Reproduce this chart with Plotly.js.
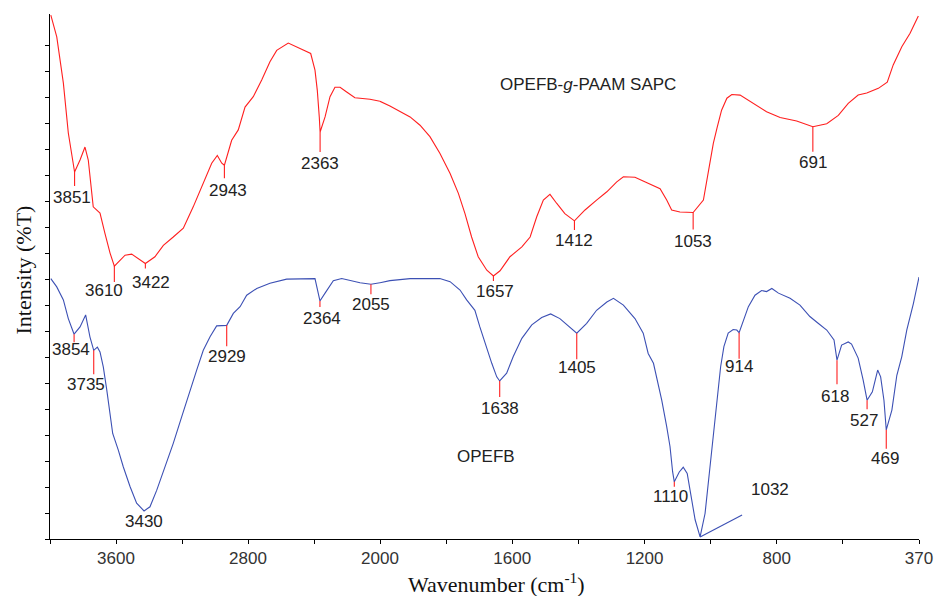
<!DOCTYPE html>
<html><head><meta charset="utf-8">
<script src="https://cdn.plot.ly/plotly-3.0.1.min.js"></script>
<style>html,body{margin:0;padding:0;background:#fff}</style>
</head><body><div id="chart" style="width:937px;height:596px"></div>
<script>
// ---------- data ----------
const redWn = [3995,3959,3919,3889,3851,3818,3788,3768,3738,3697,3667,3636,3610,3586,3545,3505,3465,3422,3364,3313,3253,3192,3132,3071,3020,2986,2959,2943,2899,2859,2818,2768,2717,2667,2626,2556,2485,2420,2394,2380,2368,2363,2333,2303,2273,2242,2202,2152,2121,2061,2000,1970,1909,1879,1849,1819,1788,1763,1743,1723,1703,1677,1657,1637,1607,1571,1546,1526,1506,1486,1466,1441,1412,1380,1345,1314,1284,1264,1229,1193,1153,1133,1118,1093,1070,1053,1022,1007,992,980,967,951,936,911,871,831,790,740,691,649,614,584,554,528,493,466,448,422,397,372];
const redT = [100.8,96.6,87.7,78.1,70.6,72.9,75.4,72.9,63.9,62.7,58.8,55.0,52.5,53.3,54.6,54.8,54.0,53.0,54.3,56.5,58.1,59.8,63.9,68.4,72.3,73.8,72.3,71.9,76.7,78.7,83.1,85.1,88.3,91.8,94.0,95.4,94.4,93.4,90.2,86.3,81.2,78.3,81.2,85.1,86.9,86.9,86.0,84.9,84.8,84.6,84.2,83.3,81.2,79.6,77.4,74.2,70.3,66.5,62.6,58.1,54.3,51.7,50.6,51.6,54.3,56.2,58.1,62.0,65.2,66.3,64.6,62.6,61.2,63.3,65.2,66.8,68.7,69.7,69.6,68.5,67.4,65.2,63.3,62.9,62.9,62.8,65.2,70.3,76.1,79.3,82.5,84.8,85.5,85.4,83.8,82.2,81.1,80.4,79.3,79.9,81.5,83.8,85.4,85.8,86.7,87.9,91.2,94.7,97.3,100.6];

const blueWn = [3995,3959,3919,3889,3854,3818,3784,3758,3735,3713,3697,3677,3656,3636,3620,3586,3556,3515,3475,3430,3394,3353,3303,3253,3202,3152,3111,3071,3030,2990,2929,2889,2848,2808,2747,2667,2566,2394,2380,2364,2333,2283,2232,2121,2055,2000,1970,1909,1819,1788,1758,1738,1713,1698,1682,1662,1647,1638,1617,1597,1571,1541,1511,1484,1456,1425,1405,1375,1345,1314,1294,1264,1229,1204,1189,1173,1163,1148,1133,1123,1115,1110,1095,1083,1071,1060,1047,1032,1017,1002,990,980,970,960,947,932,921,914,901,886,866,846,831,815,795,760,730,700,675,649,627,618,604,584,574,554,539,527,511,495,486,476,469,452,437,422,407,387,370];
const blueT = [50.1,48.5,46.0,42.4,39.4,40.8,43.1,38.9,36.3,36.9,36.0,33.1,28.7,24.2,20.3,17.1,13.9,10.1,6.9,5.4,6.2,9.4,13.9,18.4,23.5,28.7,32.5,36.3,38.9,41.0,41.1,43.4,44.7,46.9,48.2,49.2,50.0,50.1,47.9,45.8,47.3,49.7,50.1,49.3,49.0,49.3,49.7,50.1,50.1,49.5,47.9,46.0,44.0,40.8,37.6,33.8,31.2,30.4,31.9,35.1,38.6,41.2,42.6,43.3,42.4,40.8,39.6,41.5,44.0,45.6,46.3,45.0,42.4,39.6,35.7,33.8,31.2,26.7,21.6,17.8,12.9,11.0,12.9,13.8,12.6,8.8,3.7,0.4,4.9,13.9,21.6,28.0,33.1,37.0,39.6,40.3,40.2,39.7,42.1,44.7,46.9,47.8,47.6,48.2,47.3,46.3,45.0,42.8,41.5,40.2,38.3,34.4,37.3,37.9,37.5,34.8,30.6,26.7,28.3,32.5,31.2,26.7,21.0,24.8,31.5,35.1,40.2,45.3,50.4];

const redPeaks = [3851,3610,3422,2943,2363,1657,1412,1053,691];
const bluePeaks = [3854,3735,3430,2929,2364,2055,1638,1405,1110,914,618,527,469];
const blueLeaderPeak = 1032;

const xTickValsLeft = [4000,3600,3200,2800,2400];
const xTickTextLeft = ['','3600','','2800',''];
const xTickValsRight = [2000,1800,1600,1400,1200,1000,800,600,370];
const xTickTextRight = ['2000','','1600','','1200','','800','','370'];
const yTickVals = [0,5,10,15,20,25,30,35,40,45,50,55,60,65,70,75,80,85,90,95];

const seriesNames = ['OPEFB-<i>g</i>-PAAM SAPC', 'OPEFB'];
const xTitle = 'Wavenumber (cm<sup>-1</sup>)';
const yTitle = 'Intensity (%T)';

// ---------- styles (pixel offsets of peak markers / labels) ----------
const redTickLen = [14,16,5,13,20,5,9,17,25];
const redLabelDy = [25,24,19,25,31,16,20,29,36];
const redLabelDx = [-3,-10,6,4,0,2,0,0,0];
const blueTickLen = [8,24,0,21,6,10,16,26,5,26,24,9,19];
const blueLabelDy = [15,34,11,31,18,20,28,34,15,34,36,20,29];
const blueLabelDx = [-3,-8,0,0,2,0,0,0,-4,0,-2,-3,-1];

const RED = '#ff1f1f', BLUE = '#3c50b4', TXT = '#222';
const SANS = 'Liberation Sans, Arial, sans-serif';
const SERIF = 'Liberation Serif, Times New Roman, serif';
const BREAK = 2000;

function split(wn, t, color) {
  const lx=[],ly=[],rx=[],ry=[];
  wn.forEach((w,i)=>{ if (w>=BREAK){lx.push(w);ly.push(t[i]);} if (w<=BREAK){rx.push(w);ry.push(t[i]);} });
  const line = {color:color, width:1.1};
  return [
    {x:lx,y:ly,xaxis:'x',yaxis:'y',mode:'lines',line:line,hoverinfo:'skip',showlegend:false},
    {x:rx,y:ry,xaxis:'x2',yaxis:'y',mode:'lines',line:line,hoverinfo:'skip',showlegend:false}
  ];
}
const traces = [...split(redWn, redT, RED), ...split(blueWn, blueT, BLUE)];

const shapes = [], annotations = [];
function addPeaks(peaks, wn, t, tickLen, dy, dx) {
  peaks.forEach((p,i)=>{
    const v = t[wn.indexOf(p)];
    const xr = p > BREAK ? 'x' : 'x2';
    if (tickLen[i] > 0) {
      shapes.push({type:'line', xref:xr, yref:'y', x0:p, x1:p, ysizemode:'pixel', yanchor:v, y0:0, y1:-tickLen[i], line:{color:RED,width:1.1}});
    }
    annotations.push({xref:xr, yref:'y', x:p, y:v, xanchor:'center', yanchor:'middle', text:String(p), showarrow:false, xshift:dx[i], yshift:-dy[i], font:{family:SANS,size:17,color:TXT}});
  });
}
addPeaks(redPeaks, redWn, redT, redTickLen, redLabelDy, redLabelDx);
addPeaks(bluePeaks, blueWn, blueT, blueTickLen, blueLabelDy, blueLabelDx);

// 1032 leader line and label
const vLead = blueT[blueWn.indexOf(blueLeaderPeak)];
shapes.push({type:'line', xref:'x2', yref:'y', xsizemode:'pixel', xanchor:blueLeaderPeak, x0:0, x1:42, ysizemode:'pixel', yanchor:vLead, y0:0, y1:22, line:{color:BLUE,width:1.1}});
annotations.push({xref:'x2', yref:'y', x:blueLeaderPeak, y:vLead, xanchor:'center', yanchor:'middle', text:String(blueLeaderPeak), showarrow:false, xshift:70, yshift:47, font:{family:SANS,size:17,color:TXT}});

// series labels
annotations.push({xref:'x2', yref:'y', x:1371, y:87.5, xanchor:'center', yanchor:'middle', text:seriesNames[0], showarrow:false, font:{family:SANS,size:17,color:TXT}});
annotations.push({xref:'x2', yref:'y', x:1679, y:15.8, xanchor:'center', yanchor:'middle', text:seriesNames[1], showarrow:false, font:{family:SANS,size:17,color:TXT}});

// axis titles
annotations.push({xref:'paper', yref:'paper', x:0.5, y:0, xanchor:'center', yanchor:'middle', xshift:12, yshift:-44, text:xTitle, showarrow:false, font:{family:SERIF,size:22,color:'#111'}});
annotations.push({xref:'paper', yref:'paper', x:0, y:0.5, xanchor:'center', yanchor:'middle', xshift:-27, yshift:6, text:yTitle, textangle:-90, showarrow:false, font:{family:SERIF,size:22,color:'#111'}});

const axCommon = {showline:true, linecolor:'#000', linewidth:1, ticks:'outside', ticklen:4, tickcolor:'#000', tickwidth:1, showgrid:false, zeroline:false, tickmode:'array', tickfont:{family:SANS,size:17,color:'#333'}, fixedrange:true};
const frac = 330/869;
const layout = {
  width:937, height:596,
  margin:{l:50, r:18, t:14, b:57},
  paper_bgcolor:'#fff', plot_bgcolor:'#fff',
  showlegend:false,
  xaxis: Object.assign({}, axCommon, {domain:[0,frac], range:[4000,BREAK], tickvals:xTickValsLeft, ticktext:xTickTextLeft, anchor:'y'}),
  xaxis2: Object.assign({}, axCommon, {domain:[frac,1], range:[BREAK,370], tickvals:xTickValsRight, ticktext:xTickTextRight, anchor:'y'}),
  yaxis: Object.assign({}, axCommon, {range:[0,101], tickvals:yTickVals, showticklabels:false, anchor:'x'}),
  shapes: shapes,
  annotations: annotations
};
Plotly.newPlot('chart', traces, layout, {displayModeBar:false, staticPlot:true});
</script></body></html>
